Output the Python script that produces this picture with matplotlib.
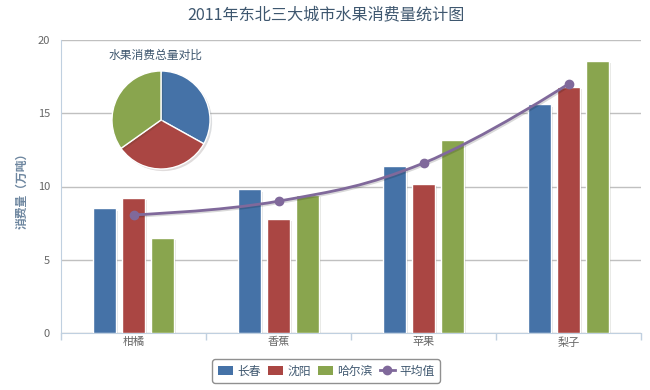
import matplotlib
matplotlib.use('Agg')

import matplotlib.pyplot as plt
import matplotlib.patheffects as pe
from matplotlib.path import Path
from matplotlib.patches import PathPatch, Patch
from matplotlib.lines import Line2D
import numpy as np

plt.rcParams['font.family'] = ['Noto Sans CJK SC', 'DejaVu Sans']

# data
categories = ['柑橘', '香蕉', '苹果', '梨子']
cities = ['长春', '沈阳', '哈尔滨']
changchun = [8.5, 9.8, 11.4, 15.6]
shenyang = [9.2, 7.8, 10.2, 16.8]
harbin = [6.5, 9.4, 13.2, 18.6]
y_ticks = [0, 5, 10, 15, 20]

colors = ['#4572A7', '#AA4643', '#89A54E']
avg_color = '#80699B'
title_color = '#3E576F'


def spline_path(xs, ys, smoothing=1.5):
    # Highcharts-style spline: cubic bezier through every point
    xs = np.asarray(xs, float)
    ys = np.asarray(ys, float)
    n = len(xs)
    left = [(xs[i], ys[i]) for i in range(n)]
    right = [(xs[i], ys[i]) for i in range(n)]
    denom = smoothing + 1
    for i in range(1, n - 1):
        lx = (smoothing * xs[i] + xs[i - 1]) / denom
        ly = (smoothing * ys[i] + ys[i - 1]) / denom
        rx = (smoothing * xs[i] + xs[i + 1]) / denom
        ry = (smoothing * ys[i] + ys[i + 1]) / denom
        corr = (ry - ly) * (rx - xs[i]) / (rx - lx) + ys[i] - ry
        left[i] = (lx, ly + corr)
        right[i] = (rx, ry + corr)
    verts = [(xs[0], ys[0])]
    codes = [Path.MOVETO]
    for i in range(1, n):
        verts += [right[i - 1], left[i], (xs[i], ys[i])]
        codes += [Path.CURVE4] * 3
    return Path(verts, codes)


fig = plt.figure(figsize=(6.5, 3.9), dpi=100, facecolor='white')
ax = fig.add_axes([61 / 650, 1 - 333 / 390, 580 / 650, 293 / 390])

x = np.arange(len(categories))
series = [changchun, shenyang, harbin]
offsets = [-0.2, 0, 0.2]
shadow = [pe.SimplePatchShadow(offset=(1.5, -1.5), alpha=0.12), pe.Normal()]
for vals, off, col in zip(series, offsets, colors):
    bars = ax.bar(x + off, vals, width=0.158, color=col, edgecolor='white',
                  linewidth=1, zorder=3)
    for b in bars:
        b.set_path_effects(shadow)

avg = np.mean(series, axis=0)
line = PathPatch(spline_path(x, avg), fill=False, edgecolor=avg_color, lw=2, zorder=4,
                 path_effects=[pe.SimpleLineShadow(offset=(1, -1), alpha=0.15), pe.Normal()])
ax.add_patch(line)
ax.plot(x, avg, 'o', color=avg_color, markersize=6, zorder=5)

ax.set_xlim(-0.5, 3.5)
ax.set_ylim(0, 20)
ax.set_yticks(y_ticks)
ax.set_yticklabels([str(t) for t in y_ticks], color='#666666', fontsize=8)
ax.tick_params(axis='y', length=0, pad=8)
ax.yaxis.grid(True, color='#C0C0C0', linewidth=1)
ax.set_axisbelow(True)

ax.set_xticks(np.arange(-0.5, 4, 1))
ax.set_xticklabels([])
ax.set_xticks(x, minor=True)
ax.set_xticklabels(categories, minor=True, color='#666666', fontsize=8)
ax.tick_params(axis='x', which='major', length=5, color='#C0D0E0', width=1)
ax.tick_params(axis='x', which='minor', length=0, pad=3)

for s in ['top', 'right']:
    ax.spines[s].set_visible(False)
ax.spines['left'].set_color('#C0D0E0')
ax.spines['bottom'].set_color('#C0D0E0')

fig.text(326 / 650, 1 - 15 / 390, '2011年东北三大城市水果消费量统计图', ha='center', va='center',
         fontsize=11.6, color=title_color)
fig.text(22 / 650, 1 - 188 / 390, '消费量（万吨）', rotation=90, ha='center', va='center',
         fontsize=8.5, fontweight='bold', color='#6D869F')

# inset pie: total consumption per city
totals = [sum(v) for v in series]
pax = fig.add_axes([111 / 650, 1 - 170 / 390, 100 / 650, 100 / 390])
wedges, _ = pax.pie(totals, colors=colors, startangle=90, counterclock=False,
                    wedgeprops=dict(edgecolor='white', linewidth=1))
for w in wedges:
    w.set_path_effects([pe.SimplePatchShadow(offset=(1.5, -1.5), alpha=0.15), pe.Normal()])
pax.set_xlim(-1.02, 1.02)
pax.set_ylim(-1.02, 1.02)
pax.set_aspect('equal')
pax.axis('off')
fig.text(156 / 650, 1 - 55 / 390, '水果消费总量对比', ha='center', va='center',
         fontsize=8.5, color=title_color)

handles = [Patch(facecolor=c, edgecolor='none') for c in colors]
handles.append(Line2D([], [], color=avg_color, lw=2, marker='o', markersize=6))
leg = fig.legend(handles, cities + ['平均值'], loc='center', ncol=4,
                 bbox_to_anchor=(326 / 650, 1 - 371 / 390), fontsize=8.5,
                 handlelength=1.3, handleheight=0.8, handletextpad=0.35,
                 columnspacing=0.6, borderpad=0.45, fancybox=True,
                 edgecolor='#909090', framealpha=1, labelcolor=title_color)
leg.get_frame().set_linewidth(1)

fig.savefig('out.png', dpi=100, facecolor='white')
plt.close()
